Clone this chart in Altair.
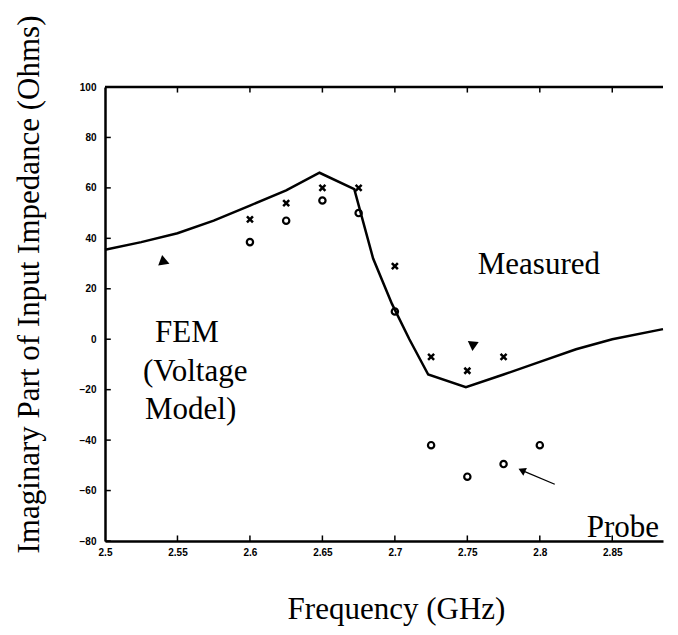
import altair as alt
import pandas as pd

# FEM (voltage model) curve
fem_freq = [2.5, 2.525, 2.55, 2.575, 2.6, 2.625, 2.648, 2.672, 2.685, 2.698, 2.71, 2.723, 2.749, 2.775, 2.8, 2.825, 2.85, 2.885]
fem_val = [35.5, 38.5, 42, 47, 53, 59, 66, 59.5, 32, 14, 0, -14, -19, -14, -9, -4, 0, 4]

# Measured (x markers)
meas_freq = [2.6, 2.625, 2.65, 2.675, 2.7, 2.725, 2.75, 2.775]
meas_val = [47.5, 54, 60, 60, 29, -7, -12.5, -7]

# Probe (open circles)
probe_freq = [2.6, 2.625, 2.65, 2.675, 2.7, 2.725, 2.75, 2.775, 2.8]
probe_val = [38.5, 47, 55, 50, 11, -42, -54.5, -49.5, -42]

x_ticks = [2.5, 2.55, 2.6, 2.65, 2.7, 2.75, 2.8, 2.85]
y_ticks = [100, 80, 60, 40, 20, 0, -20, -40, -60, -80]

# annotation labels
label_text = ["FEM", "(Voltage", "Model)", "Measured", "Probe"]
label_freq = [2.5345, 2.5262, 2.5276, 2.7572, 2.8324]
label_val = [-1.2, -16.7, -31.7, 25.8, -78.5]

# arrowheads
tri1_freq, tri1_val = [2.5400], [31.5]
tri2_freq, tri2_val = [2.7538], [-2.8]
arrow_tail_freq, arrow_tail_val = 2.8103, -57.5
arrow_head_freq, arrow_head_val = 2.7876, -52.0

X_DOM = [2.5, 2.885]
Y_DOM = [-80, 100]

xs = alt.Scale(domain=X_DOM, nice=False, zero=False)
ys = alt.Scale(domain=Y_DOM, nice=False, zero=False)

SERIF = "Liberation Serif"

fem_df = pd.DataFrame({"f": fem_freq, "v": fem_val})
meas_df = pd.DataFrame({"f": meas_freq, "v": meas_val})
probe_df = pd.DataFrame({"f": probe_freq, "v": probe_val})
lab_df = pd.DataFrame({"t": label_text, "f": label_freq, "v": label_val})

x_axis = alt.Axis(values=x_ticks, format=".2~f", title="Frequency (GHz)", titleFont=SERIF,
                  titleFontSize=31, titleFontWeight="normal", titleColor="black",
                  titleX=291, titleY=77, titleAlign="center", titleBaseline="alphabetic",
                  labelFont="Liberation Sans", labelFontWeight="bold", labelFontSize=10,
                  labelColor="black", labelPadding=6, ticks=False, grid=False,
                  domainColor="black", domainWidth=2.5, labelFlush=False)
y_axis = alt.Axis(values=y_ticks, title="Imaginary Part of Input Impedance (Ohms)", titleFont=SERIF,
                  titleFontSize=31, titleFontWeight="normal", titleColor="black",
                  titleX=-67, titleY=197, titleAngle=270, titleAlign="center", titleBaseline="alphabetic",
                  labelFont="Liberation Sans", labelFontWeight="bold", labelFontSize=10,
                  labelColor="black", labelPadding=9, ticks=False, grid=False,
                  domainColor="black", domainWidth=2.5, labelFlush=False)

base = alt.Chart(fem_df)

line = base.mark_line(color="black", strokeWidth=2.5).encode(
    x=alt.X("f:Q", scale=xs, axis=x_axis),
    y=alt.Y("v:Q", scale=ys, axis=y_axis),
)

crosses = alt.Chart(meas_df).mark_point(
    shape="M-1,-1L1,1M-1,1L1,-1", size=36, strokeWidth=2.5, color="black", filled=False, opacity=1
).encode(x=alt.X("f:Q", scale=xs), y=alt.Y("v:Q", scale=ys))

circles = alt.Chart(probe_df).mark_point(
    shape="circle", size=40, strokeWidth=2.2, color="black", filled=False, opacity=1
).encode(x=alt.X("f:Q", scale=xs), y=alt.Y("v:Q", scale=ys))

# top frame line
top_df = pd.DataFrame({"f": [X_DOM[0]], "f2": [X_DOM[1]], "v": [Y_DOM[1]]})
top_line = alt.Chart(top_df).mark_rule(color="black", strokeWidth=2.5).encode(
    x=alt.X("f:Q", scale=xs), x2="f2:Q", y=alt.Y("v:Q", scale=ys))

# inward tick marks
xt_df = pd.DataFrame({"f": x_ticks[1:], "lo": [Y_DOM[0]] * 7, "hi": [Y_DOM[0] + 2.2] * 7})
xt = alt.Chart(xt_df).mark_rule(color="black", strokeWidth=1.5).encode(
    x=alt.X("f:Q", scale=xs), y=alt.Y("lo:Q", scale=ys), y2="hi:Q")
xt_top_df = pd.DataFrame({"f": x_ticks[1:], "lo": [Y_DOM[1] - 2.2] * 7, "hi": [Y_DOM[1]] * 7})
xt_top = alt.Chart(xt_top_df).mark_rule(color="black", strokeWidth=1.5).encode(
    x=alt.X("f:Q", scale=xs), y=alt.Y("lo:Q", scale=ys), y2="hi:Q")
yt_df = pd.DataFrame({"v": y_ticks, "lo": [X_DOM[0]] * len(y_ticks), "hi": [X_DOM[0] + 0.004] * len(y_ticks)})
yt = alt.Chart(yt_df).mark_rule(color="black", strokeWidth=1.5).encode(
    y=alt.Y("v:Q", scale=ys), x=alt.X("lo:Q", scale=xs), x2="hi:Q")

labels = alt.Chart(lab_df).mark_text(
    font=SERIF, fontSize=31, align="left", baseline="alphabetic", color="black"
).encode(x=alt.X("f:Q", scale=xs), y=alt.Y("v:Q", scale=ys), text="t:N")

tri1 = alt.Chart(pd.DataFrame({"f": tri1_freq, "v": tri1_val})).mark_point(
    shape="triangle-up", size=130, filled=True, color="black", opacity=1, angle=350
).encode(x=alt.X("f:Q", scale=xs), y=alt.Y("v:Q", scale=ys))

tri2 = alt.Chart(pd.DataFrame({"f": tri2_freq, "v": tri2_val})).mark_point(
    shape="triangle-up", size=120, filled=True, color="black", opacity=1, angle=185
).encode(x=alt.X("f:Q", scale=xs), y=alt.Y("v:Q", scale=ys))

arr_df = pd.DataFrame({"f": [arrow_tail_freq], "v": [arrow_tail_val],
                       "f2": [arrow_head_freq], "v2": [arrow_head_val]})
arrow_line = alt.Chart(arr_df).mark_rule(color="black", strokeWidth=1.3).encode(
    x=alt.X("f:Q", scale=xs), y=alt.Y("v:Q", scale=ys), x2="f2:Q", y2="v2:Q")
arrow_head = alt.Chart(pd.DataFrame({"f": [arrow_head_freq], "v": [arrow_head_val]})).mark_point(
    shape="triangle-up", size=70, filled=True, color="black", opacity=1, angle=295
).encode(x=alt.X("f:Q", scale=xs), y=alt.Y("v:Q", scale=ys))

chart = alt.layer(
    line, top_line, xt, xt_top, yt, crosses, circles, labels, tri1, tri2, arrow_line, arrow_head
).properties(
    width=558, height=454,
    autosize=alt.AutoSizeParams(type="none"),
    padding={"left": 97, "top": 79, "right": 7, "bottom": 88},
    background="white",
).configure_view(stroke=None)

chart.save("out.html", embed_options={"renderer": "svg", "actions": False})
